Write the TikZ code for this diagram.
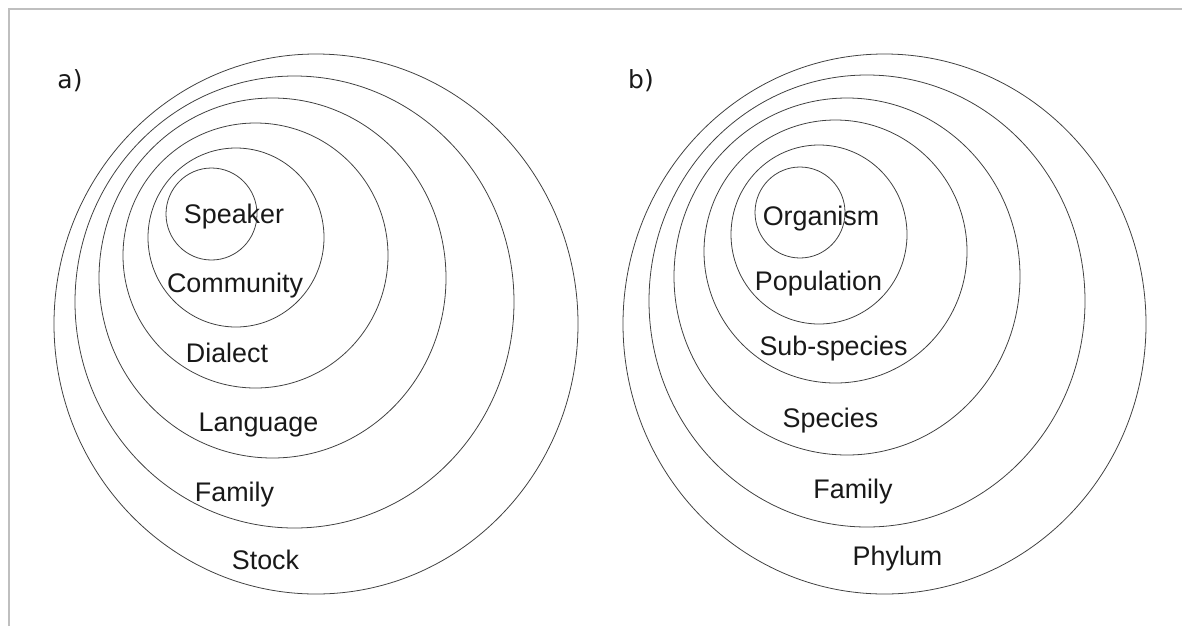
\documentclass[tikz,border=0pt]{standalone}
\usepackage{fontspec}
\setmainfont{Liberation Sans}
\newfontfamily\tagfont{DejaVu Sans}
\usepackage{tikz}

\tikzset{
  ring/.style={black!75, line width=0.45pt},
  lvl/.style={font=\fontsize{15.3}{18}\selectfont, text=black!90, inner sep=0pt, anchor=base},
  paneltag/.style={font=\tagfont\fontsize{14.2}{17}\selectfont, text=black!90, inner sep=0pt, anchor=base},
  frameline/.style={black!25, line width=0.9pt}
}

\begin{document}
\begin{tikzpicture}[x=0.02cm, y=-0.02cm]
  \useasboundingbox (0,0) rectangle (1182,626);
  \draw[frameline] (9,626) -- (9,9) -- (1182,9);

  % a) language hierarchy
  \draw[ring] (316,324) ellipse [x radius=262, y radius=270];
  \draw[ring] (294.5,302) ellipse [x radius=219.5, y radius=226];
  \draw[ring] (272.5,278) ellipse [x radius=173.5, y radius=180];
  \draw[ring] (255.5,255.5) ellipse [x radius=132.5, y radius=132.5];
  \draw[ring] (236,237.5) ellipse [x radius=88, y radius=89.5];
  \draw[ring] (211.5,214) ellipse [x radius=45.5, y radius=46];
  \node[paneltag] (taga) at (70,88) {a)};
  \node[lvl] (speaker) at (234,223) {Speaker};
  \node[lvl] (community) at (235,292) {Community};
  \node[lvl] (dialect) at (227,362) {Dialect};
  \node[lvl] (language) at (258.5,431) {Language};
  \node[lvl] (familya) at (234.5,501) {Family};
  \node[lvl] (stock) at (265.5,569) {Stock};

  % b) biological hierarchy
  \draw[ring] (884.5,324) ellipse [x radius=261.5, y radius=270];
  \draw[ring] (867,301) ellipse [x radius=218, y radius=226];
  \draw[ring] (847,276.5) ellipse [x radius=173, y radius=178.5];
  \draw[ring] (835.5,251.5) ellipse [x radius=131.5, y radius=131.5];
  \draw[ring] (819,234.5) ellipse [x radius=88, y radius=89.5];
  \draw[ring] (800,212.5) ellipse [x radius=45, y radius=45.5];
  \node[paneltag] (tagb) at (641,88) {b)};
  \node[lvl] (organism) at (821,225) {Organism};
  \node[lvl] (population) at (818.5,290) {Population};
  \node[lvl] (subspecies) at (833.5,355) {Sub-species};
  \node[lvl] (species) at (830.5,427) {Species};
  \node[lvl] (familyb) at (853,498) {Family};
  \node[lvl] (phylum) at (897.5,565) {Phylum};
\end{tikzpicture}
\end{document}
